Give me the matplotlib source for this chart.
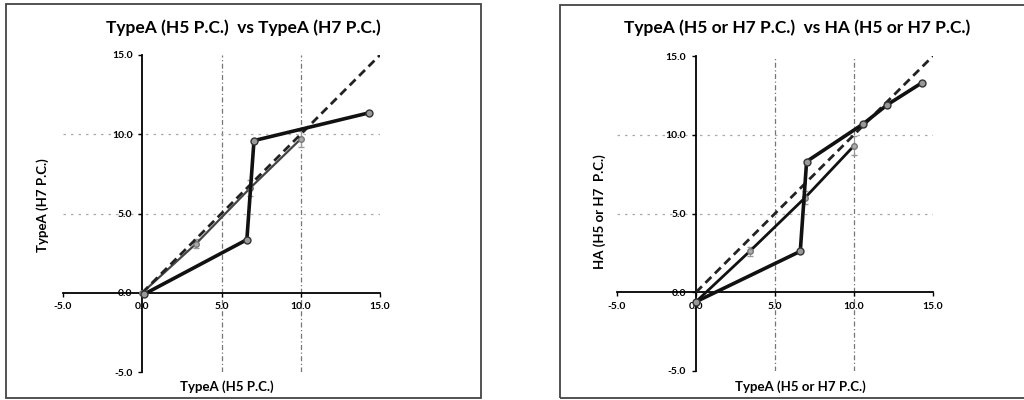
import numpy as np
import matplotlib
matplotlib.use('Agg')
from matplotlib import pyplot as plt
from matplotlib.patches import Rectangle

plt.rcParams['font.family'] = ['Lato', 'DejaVu Sans']

# left panel: TypeA (H5) vs TypeA (H7)
left_a_x = [0.1, 6.6, 7.05, 14.3]
left_a_y = [-0.1, 3.35, 9.6, 11.35]
left_b_x = [0.0, 3.4, 6.8, 10.0]
left_b_y = [0.0, 3.1, 6.6, 9.7]
left_b_err = [0.0, 0.3, 0.5, 0.5]

# right panel: TypeA (H5 or H7) vs HA (H5 or H7)
right_a_x = [0.0, 6.6, 7.0, 10.6, 12.1, 14.3]
right_a_y = [-0.6, 2.6, 8.3, 10.7, 11.9, 13.3]
right_b_x = [0.0, 3.4, 6.9, 10.0]
right_b_y = [-0.6, 2.6, 6.0, 9.3]
right_b_err = [0.0, 0.3, 0.4, 0.6]

ident = [0, 15]
ticks = [-5, 0, 5, 10, 15]
tick_labels = ['-5.0', '0.0', '5.0', '10.0', '15.0']

panels = [
    dict(rect=[63/1024, 28/400, 317/1024, 317/400],
         title='TypeA (H5 P.C.)  vs TypeA (H7 P.C.)',
         xlabel='TypeA (H5 P.C.)', ylabel='TypeA (H7 P.C.)',
         ax_=left_a_x, ay=left_a_y, bx=left_b_x, by=left_b_y, be=left_b_err,
         bcolor='#444444', blw=1.6,
         xl=(0.517, -0.047), yl=(-0.063, 0.527), tx=243/1024),
    dict(rect=[617/1024, 29/400, 316/1024, 315/400],
         title='TypeA (H5 or H7 P.C.)  vs HA (H5 or H7 P.C.)',
         xlabel='TypeA (H5 or H7 P.C.)', ylabel='HA (H5 or H7  P.C.)',
         ax_=right_a_x, ay=right_a_y, bx=right_b_x, by=right_b_y, be=right_b_err,
         bcolor='#111111', blw=2.0,
         xl=(0.58, -0.05), yl=(-0.054, 0.505), tx=797/1024),
]

fig = plt.figure(figsize=(10.24, 4.0), dpi=100)

# panel borders
fig.patches.append(Rectangle((6/1024, 2/400), 475/1024, 394/400, transform=fig.transFigure,
                             fill=False, edgecolor='#444444', linewidth=1.3))
fig.patches.append(Rectangle((560/1024, 2/400), 475/1024, 393/400, transform=fig.transFigure,
                             fill=False, edgecolor='#444444', linewidth=1.3))

for p in panels:
    ax = fig.add_axes(p['rect'])
    ax.set_xlim(-5, 15)
    ax.set_ylim(-5, 15)
    for s in ['top', 'right']:
        ax.spines[s].set_visible(False)
    ax.spines['left'].set_position(('data', 0))
    ax.spines['bottom'].set_position(('data', 0))
    ax.spines['left'].set_linewidth(1.3)
    ax.spines['bottom'].set_linewidth(1.3)
    ax.set_xticks(ticks)
    ax.set_yticks(ticks)
    ax.set_xticklabels(tick_labels)
    ax.set_yticklabels(tick_labels)
    ax.tick_params(direction='out', length=3, width=1, labelsize=7.5, pad=4)
    for lab in ax.get_xticklabels() + ax.get_yticklabels():
        lab.set_fontweight('bold')

    # gridlines
    for g in [5, 10]:
        ax.plot([g, g], [-5, 15], color='#777777', lw=0.9, ls=(0, (4, 2, 1, 2)), zorder=1)
        ax.plot([-5, 15], [g, g], color='#aaaaaa', lw=0.9, ls=(0, (2, 4)), zorder=1)

    ax.errorbar(p['bx'], p['by'], yerr=p['be'], color=p['bcolor'], lw=p['blw'],
                ecolor='#999999', elinewidth=0.8, capsize=2, marker='o', ms=4,
                mfc='#aaaaaa', mec='#777777', zorder=3)
    ax.plot(ident, ident, color='#222222', lw=2, ls=(0, (3, 1.8)), zorder=4)
    ax.plot(p['ax_'], p['ay'], color='#111111', lw=2.6, marker='o', ms=5,
            mfc='#999999', mec='#333333', mew=1, zorder=5)

    ax.text(p['xl'][0], p['xl'][1], p['xlabel'], transform=ax.transAxes,
            ha='center', va='center', fontsize=9.5, fontweight='bold')
    ax.text(p['yl'][0], p['yl'][1], p['ylabel'], transform=ax.transAxes,
            ha='center', va='center', rotation=90, fontsize=9.5, fontweight='bold')
    fig.text(p['tx'], 0.93, p['title'], ha='center', va='center',
             fontsize=12.5, fontweight='bold')

plt.savefig('out.png', dpi=100)
plt.close()
